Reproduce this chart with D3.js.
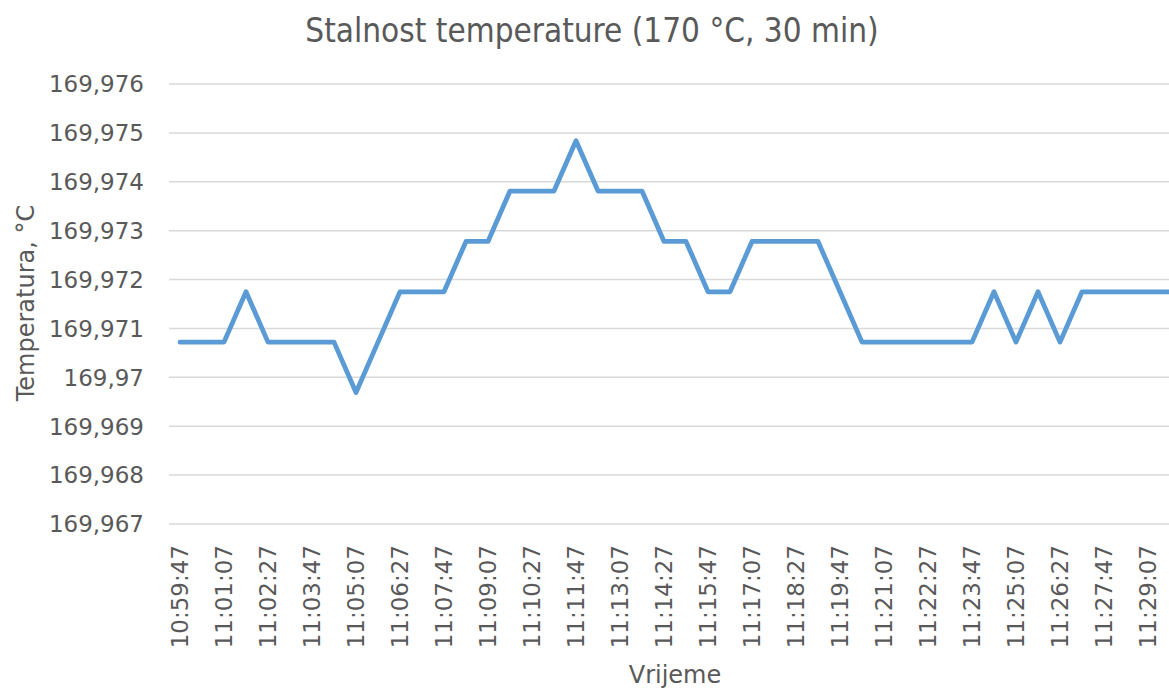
<!DOCTYPE html>
<html>
<head>
<meta charset="utf-8">
<script src="https://cdn.jsdelivr.net/npm/d3@7"></script>
<style>
  body { margin: 0; background: #fff; }
  text { fill: #595959; font-family: "DejaVu Sans", sans-serif; }
</style>
</head>
<body>
<div id="chart"></div>
<script>
// chart size
var width = 1169;
var height = 691;

// measurement times (every 40 s)
var times = [
  "10:59:47", "11:00:27", "11:01:07", "11:01:47", "11:02:27", "11:03:07",
  "11:03:47", "11:04:27", "11:05:07", "11:05:47", "11:06:27", "11:07:07",
  "11:07:47", "11:08:27", "11:09:07", "11:09:47", "11:10:27", "11:11:07",
  "11:11:47", "11:12:27", "11:13:07", "11:13:47", "11:14:27", "11:15:07",
  "11:15:47", "11:16:27", "11:17:07", "11:17:47", "11:18:27", "11:19:07",
  "11:19:47", "11:20:27", "11:21:07", "11:21:47", "11:22:27", "11:23:07",
  "11:23:47", "11:24:27", "11:25:07", "11:25:47", "11:26:27", "11:27:07",
  "11:27:47", "11:28:27", "11:29:07", "11:29:47"
];

// temperature readings, °C
var temps = [
  169.97072, 169.97072, 169.97072, 169.97175, 169.97072, 169.97072,
  169.97072, 169.97072, 169.96969, 169.97072, 169.97175, 169.97175,
  169.97175, 169.97278, 169.97278, 169.97381, 169.97381, 169.97381,
  169.97484, 169.97381, 169.97381, 169.97381, 169.97278, 169.97278,
  169.97175, 169.97175, 169.97278, 169.97278, 169.97278, 169.97278,
  169.97175, 169.97072, 169.97072, 169.97072, 169.97072, 169.97072,
  169.97072, 169.97175, 169.97072, 169.97175, 169.97072, 169.97175,
  169.97175, 169.97175, 169.97175, 169.97175
];

// y axis ticks
var yTicks = [169.967, 169.968, 169.969, 169.970, 169.971, 169.972, 169.973, 169.974, 169.975, 169.976];
var yTickLabels = ["169,967", "169,968", "169,969", "169,97", "169,971", "169,972", "169,973", "169,974", "169,975", "169,976"];

var title = "Stalnost temperature (170 \u00B0C, 30 min)";
var yTitle = "Temperatura, \u00B0C";
var xTitle = "Vrijeme";

// plot area
var plotLeft = 169, plotTop = 84, plotBottom = 524;
var band = 22;

var svg = d3.select("#chart")
  .append("svg")
  .attr("width", width)
  .attr("height", height);

var x = d3.scaleBand()
  .domain(times)
  .range([plotLeft, plotLeft + band * times.length]);

var y = d3.scaleLinear()
  .domain([169.967, 169.976])
  .range([plotBottom, plotTop]);

// gridlines
svg.append("g")
  .selectAll("line")
  .data(yTicks)
  .enter()
  .append("line")
    .attr("x1", plotLeft)
    .attr("x2", width)
    .attr("y1", function(d) { return y(d); })
    .attr("y2", function(d) { return y(d); })
    .style("stroke", "#d9d9d9")
    .style("stroke-width", 1.5);

// y tick labels
svg.append("g")
  .selectAll("text")
  .data(yTicks)
  .enter()
  .append("text")
    .attr("x", 144)
    .attr("y", function(d) { return y(d); })
    .attr("dy", "0.36em")
    .attr("text-anchor", "end")
    .style("font-size", "23px")
    .text(function(d, i) { return yTickLabels[i]; });

// x tick labels, every second category
svg.append("g")
  .selectAll("text")
  .data(times.filter(function(d, i) { return i % 2 == 0; }))
  .enter()
  .append("text")
    .attr("transform", function(d) {
      return "translate(" + (x(d) + x.bandwidth() / 2) + ",545) rotate(-90)";
    })
    .attr("dy", "0.36em")
    .attr("text-anchor", "end")
    .style("font-size", "23px")
    .text(function(d) { return d; });

// the line
var line = d3.line()
  .x(function(d, i) { return x(times[i]) + x.bandwidth() / 2; })
  .y(function(d) { return y(d); });

svg.append("path")
  .datum(temps)
  .attr("d", line)
  .style("fill", "none")
  .style("stroke", "#5b9bd5")
  .style("stroke-width", 4.8)
  .style("stroke-linejoin", "round")
  .style("stroke-linecap", "round");

// titles
svg.append("text")
  .attr("x", 592)
  .attr("y", 42)
  .attr("text-anchor", "middle")
  .style("font-family", "'DejaVu Sans Condensed', sans-serif")
  .style("font-size", "33px")
  .text(title);

svg.append("text")
  .attr("transform", "translate(25,303) rotate(-90)")
  .attr("dy", "0.36em")
  .attr("text-anchor", "middle")
  .style("font-size", "24px")
  .text(yTitle);

svg.append("text")
  .attr("x", 675)
  .attr("y", 683)
  .attr("text-anchor", "middle")
  .style("font-size", "24px")
  .text(xTitle);
</script>
</body>
</html>
